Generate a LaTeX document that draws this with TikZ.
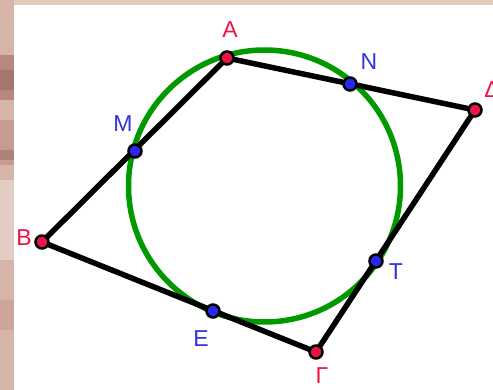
\documentclass[tikz,border=0pt]{standalone}
\usepackage{fontspec}
\setmainfont{Liberation Sans}
\definecolor{ptred}{RGB}{235,20,70}
\definecolor{ptblue}{RGB}{40,40,240}
\definecolor{lblblue}{RGB}{50,50,225}
\definecolor{circgreen}{RGB}{0,153,0}
\definecolor{bgA}{RGB}{228,200,185}
\definecolor{bgB}{RGB}{215,180,170}
\definecolor{bgC}{RGB}{185,135,125}
\definecolor{bgD}{RGB}{165,120,110}
\definecolor{bgE}{RGB}{200,155,145}
\definecolor{bgF}{RGB}{175,130,120}
\definecolor{bgG}{RGB}{225,205,195}
\definecolor{bgH}{RGB}{205,165,155}
\begin{document}
\begin{tikzpicture}[x=1pt,y=-1pt,
  seg/.style={line width=5.5pt,black},
  redpt/.style={circle,fill=ptred,draw=black,line width=2.5pt,inner sep=0pt,minimum size=13pt},
  bluept/.style={circle,fill=ptblue,draw=black,line width=2.5pt,inner sep=0pt,minimum size=13pt},
  redlbl/.style={text=ptred,font=\fontsize{23}{23}\selectfont,inner sep=0pt},
  bluelbl/.style={text=lblblue,font=\fontsize{23}{23}\selectfont,inner sep=0pt}]
\useasboundingbox (0,0) rectangle (493,390);
\fill[white] (0,0) rectangle (493,390);
% background strips
\fill[bgA] (0,0) rectangle (493,5);
\fill[bgB] (0,0) rectangle (14,390);
\fill[bgC] (0,55) rectangle (14,100);
\fill[bgD] (0,70) rectangle (14,90);
\fill[bgE] (0,120) rectangle (14,165);
\fill[bgF] (0,150) rectangle (14,160);
\fill[bgG] (0,180) rectangle (14,260);
\fill[bgH] (0,300) rectangle (14,330);
% circle
\node[circle,draw=circgreen,line width=5.5pt,minimum size=272pt,inner sep=0pt] (c) at (264.5,186) {};
% points
\coordinate (A) at (227,58);
\coordinate (N) at (350,84);
\coordinate (D) at (475,110);
\coordinate (M) at (135,151);
\coordinate (B) at (42,242);
\coordinate (E) at (213,311);
\coordinate (G) at (316,352);
\coordinate (T) at (376,261);
\draw[seg,line join=round] (A) -- (D) -- (G) -- (B) -- cycle;
\node[redpt] (pA) at (A) {};
\node[redpt] (pD) at (D) {};
\node[redpt] (pB) at (B) {};
\node[redpt] (pG) at (G) {};
\node[bluept] (pN) at (N) {};
\node[bluept] (pM) at (M) {};
\node[bluept] (pE) at (E) {};
\node[bluept] (pT) at (T) {};
% labels
\node[redlbl] (lA) at (230,30) {A};
\node[redlbl] (lD) at (492,90) {Δ};
\node[redlbl] (lB) at (24,238) {B};
\node[redlbl] (lG) at (322,376) {Γ};
\node[bluelbl] (lN) at (369,62) {N};
\node[bluelbl] (lM) at (123,124) {M};
\node[bluelbl] (lE) at (201,339) {E};
\node[bluelbl] (lT) at (396,272) {T};
\end{tikzpicture}
\end{document}
